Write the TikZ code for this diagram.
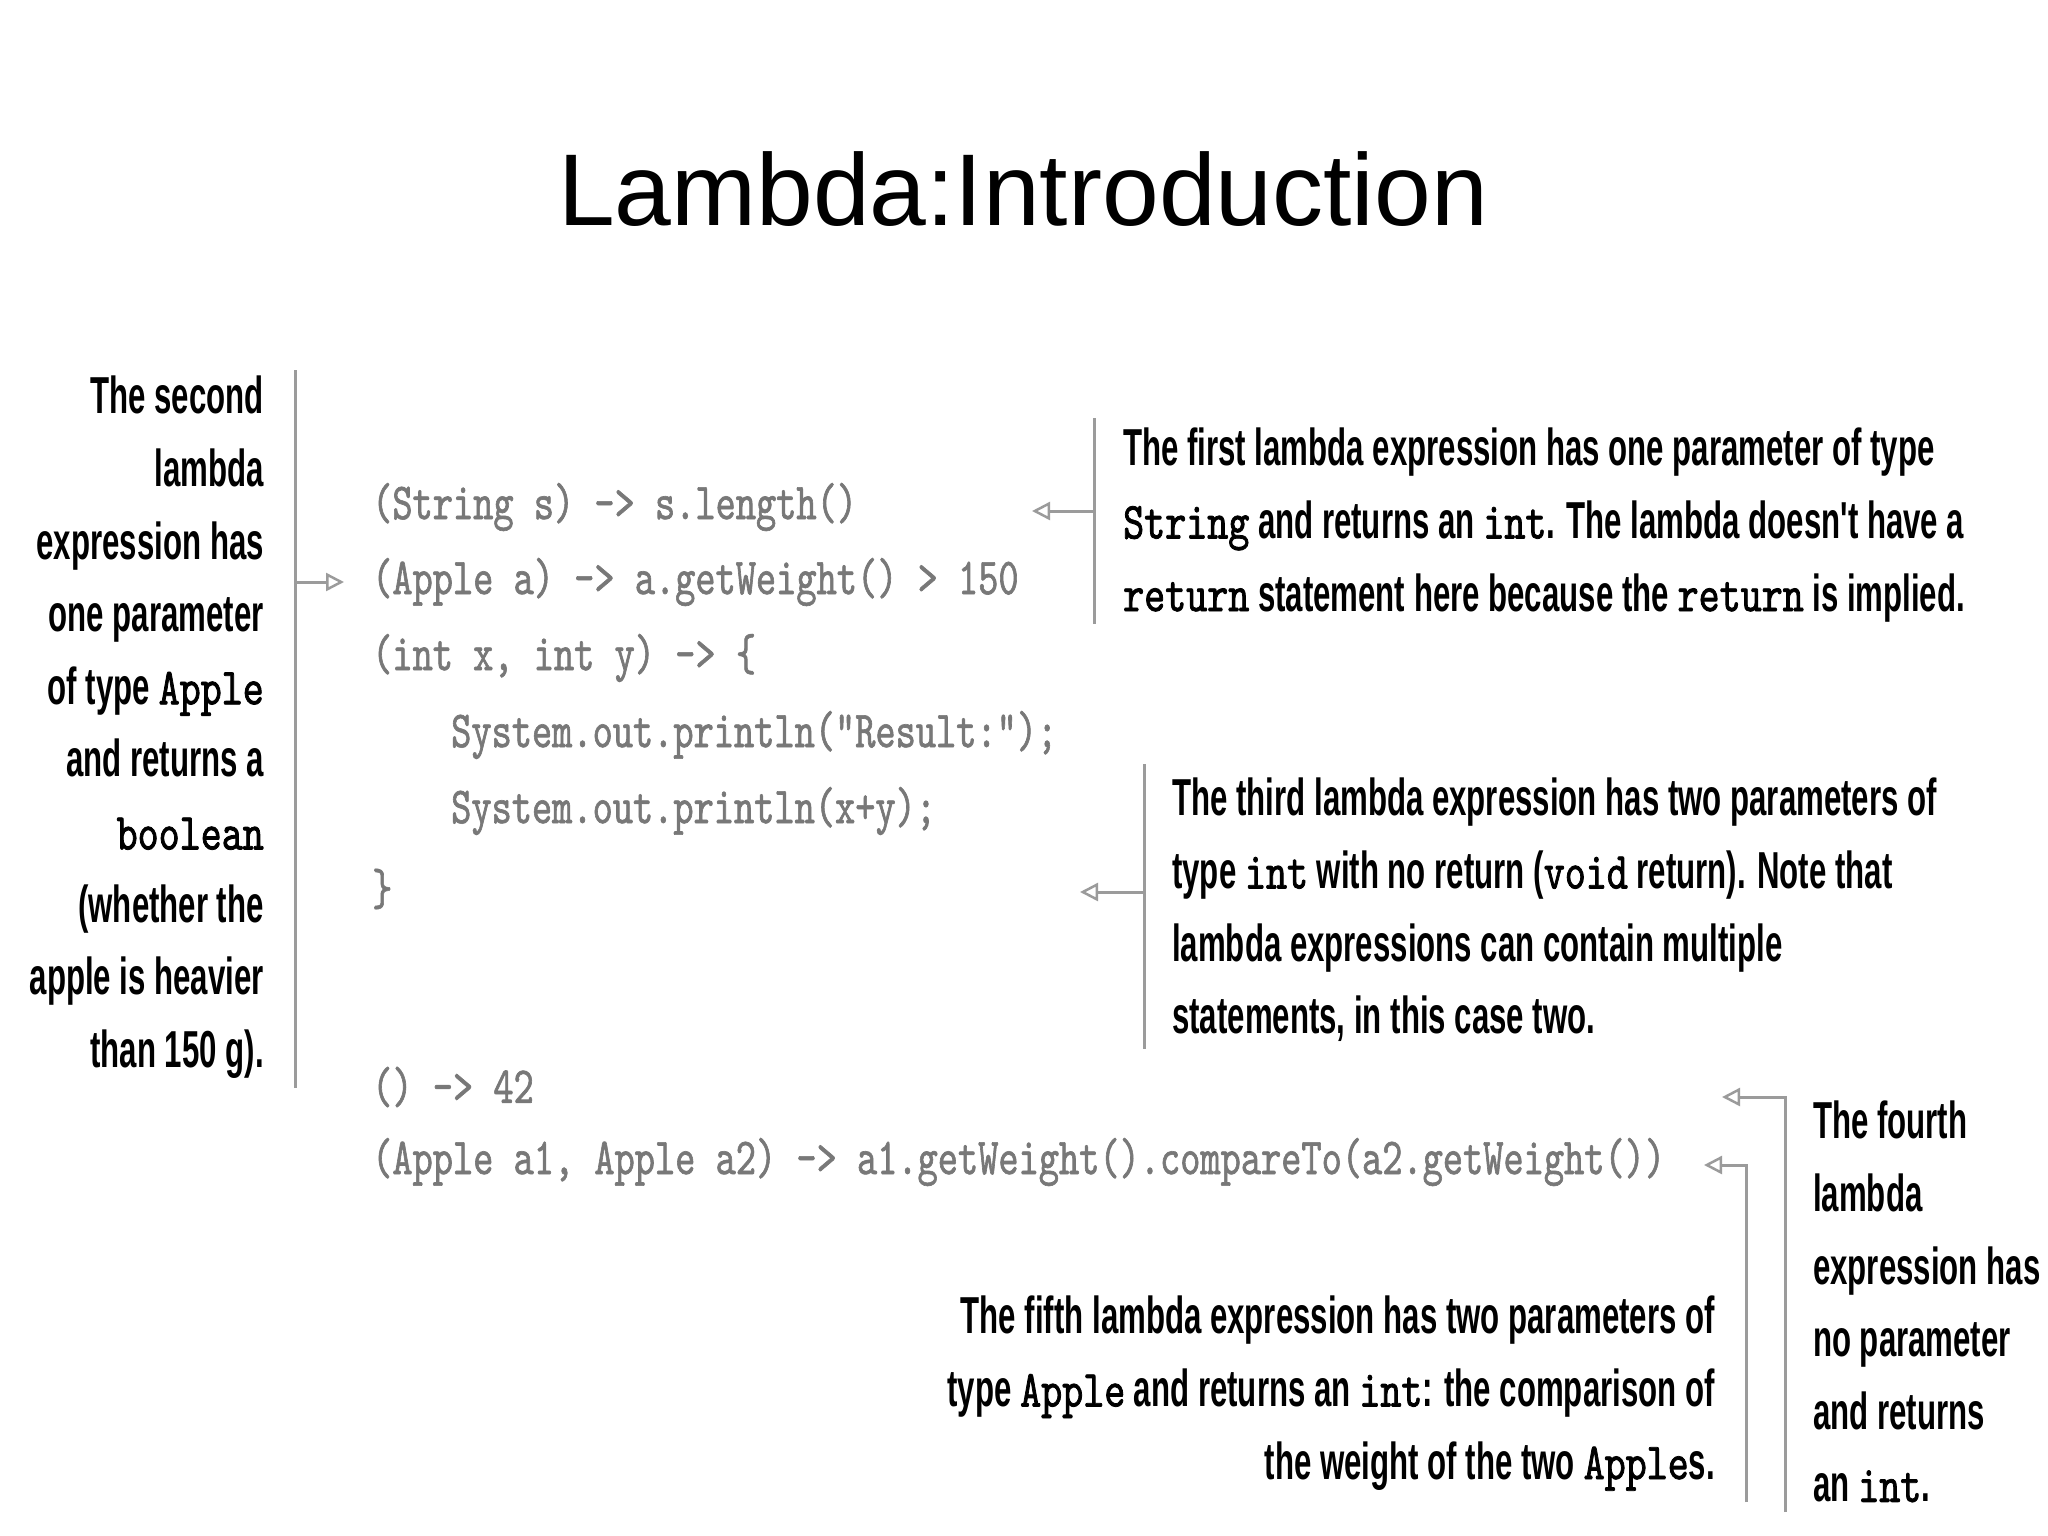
\documentclass[tikz,border=0pt]{standalone}
\usepackage{fontspec}
\setmainfont{Liberation Sans}
\newfontfamily\condf[FakeStretch=0.6]{Liberation Sans}
\newfontfamily\tmonof[FakeStretch=0.77,FakeBold=1.5]{lmmono10-regular.otf}
\newfontfamily\cmonof[FakeStretch=0.74,FakeBold=1.2]{lmmono10-regular.otf}
\usetikzlibrary{arrows.meta}
\newcommand{\tm}[1]{{\tmonof\mdseries #1}}
\definecolor{codegray}{RGB}{120,120,120}
\definecolor{linegray}{RGB}{155,155,155}
\begin{document}
\begin{tikzpicture}[x=1pt,y=-1pt,
  note/.style={inner sep=0pt, font={\condf\bfseries\fontsize{52}{72.6}\selectfont}, text=black},
  code/.style={inner sep=0pt, anchor=west, font={\cmonof\fontsize{52}{60}\selectfont}, text=codegray},
  bar/.style={draw=linegray, line width=3pt},
  arr/.style={draw=linegray, line width=3pt, -{Triangle[open,length=18pt,width=18pt,line width=2.5pt]}}]
\fill[white] (0,0) rectangle (2048,1535);
\useasboundingbox (0,0) rectangle (2048,1535);

\node[font={\fontsize{102}{110}\selectfont}, anchor=base, inner sep=0pt] (title) at (1023,225) {Lambda:Introduction};

% code
\node[code] (c1) at (372,507) {(String s) -> s.length()};
\node[code] (c2) at (372,582) {(Apple a) -> a.getWeight() > 150};
\node[code] (c3) at (372,658) {(int x, int y) -> \{};
\node[code] (c4) at (451,735) {System.out.println("Result:");};
\node[code] (c5) at (451,811) {System.out.println(x+y);};
\node[code] (c6) at (372,889) {\}};
\node[code] (c7) at (372,1087) {() -> 42};
\node[code] (c8) at (372,1162) {(Apple a1, Apple a2) -> a1.getWeight().compareTo(a2.getWeight())};

% notes
\node[note, anchor=north east, align=right] (n2) at (264,376) {The second\\lambda\\expression has\\one parameter\\of type \tm{Apple}\\and returns a\\\tm{boolean}\\(whether the\\apple is heavier\\than 150 g).};
\node[note, anchor=north west, align=left] (n1) at (1123,428) {The first lambda expression has one parameter of type\\\tm{String} and returns an \tm{int}. The lambda doesn't have a\\\tm{return} statement here because the \tm{return} is implied.};
\node[note, anchor=north west, align=left] (n3) at (1172,778) {The third lambda expression has two parameters of\\type \tm{int} with no return (\tm{void} return). Note that\\lambda expressions can contain multiple\\statements, in this case two.};
\node[note, anchor=north west, align=left] (n4) at (1813,1101) {The fourth\\lambda\\expression has\\no parameter\\and returns\\an \tm{int}.};
\node[note, anchor=north east, align=right] (n5) at (1715,1296) {The fifth lambda expression has two parameters of\\type \tm{Apple} and returns an \tm{int}: the comparison of\\the weight of the two \tm{Apple}s.};

% connectors
\coordinate (b2t) at (295,370);
\coordinate (b2b) at (295,1088);
\draw[bar] (b2t) -- (b2b);
\draw[arr] (b2t |- c2.west) -- ([xshift=-28pt]c2.west);

\coordinate (b1t) at (1094,418);
\coordinate (b1b) at (1094,624);
\coordinate (a1) at (1032,511);
\draw[bar] (b1t) -- (b1b);
\draw[arr] (b1t |- a1) -- (a1);

\coordinate (b3t) at (1144,764);
\coordinate (b3b) at (1144,1049);
\coordinate (a3) at (1080,892);
\draw[bar] (b3t) -- (b3b);
\draw[arr] (b3t |- a3) -- (a3);

\coordinate (b4b) at (1785,1512);
\coordinate (a4) at (1722,1097);
\draw[arr] (b4b) |- (a4);

\coordinate (b5b) at (1746,1502);
\coordinate (a5) at (1704,1165);
\draw[arr] (b5b) |- (a5);
\end{tikzpicture}
\end{document}
